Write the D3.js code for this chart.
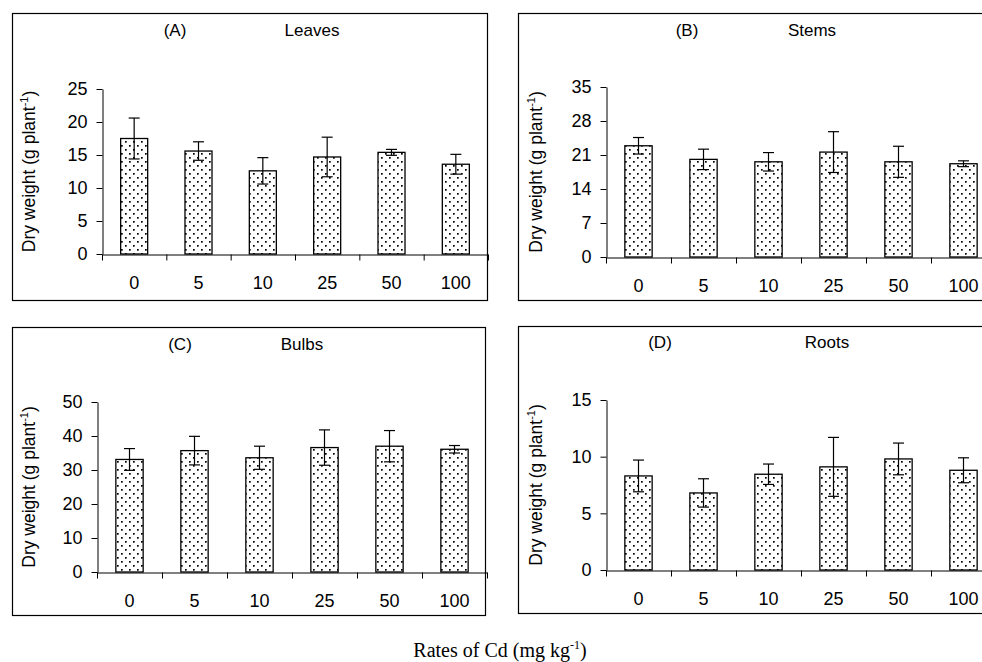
<!DOCTYPE html>
<html>
<head>
<meta charset="utf-8">
<script src="https://cdn.jsdelivr.net/npm/d3@7"></script>
<style>
  body { margin: 0; background: #fff; }
  svg { display: block; }
  text { font-family: "Liberation Sans", Arial, sans-serif; fill: #000; }
</style>
</head>
<body>
<script>
'use strict';

// data
var rates = ["0", "5", "10", "25", "50", "100"];

var leavesMean = [17.5, 15.6, 12.6, 14.7, 15.4, 13.6];
var leavesErr  = [3.1, 1.4, 2.0, 3.0, 0.45, 1.5];

var stemsMean = [22.9, 20.1, 19.6, 21.6, 19.6, 19.2];
var stemsErr  = [1.7, 2.1, 1.9, 4.2, 3.2, 0.6];

var bulbsMean = [33.1, 35.7, 33.6, 36.6, 37.0, 36.1];
var bulbsErr  = [3.2, 4.2, 3.4, 5.2, 4.6, 1.1];

var rootsMean = [8.3, 6.8, 8.45, 9.1, 9.8, 8.8];
var rootsErr  = [1.4, 1.25, 0.9, 2.6, 1.4, 1.1];

var leavesTicks = [0, 5, 10, 15, 20, 25];
var stemsTicks  = [0, 7, 14, 21, 28, 35];
var bulbsTicks  = [0, 10, 20, 30, 40, 50];
var rootsTicks  = [0, 5, 10, 15];

(function() {

    var width = 982,
        height = 662;

    var panels = [
        { tag: "(A)", name: "Leaves", mean: leavesMean, err: leavesErr, ticks: leavesTicks,
          box: [12, 13, 487, 300], x0: 102, x1: 488, y0: 254, y1: 89,
          tagX: 175, nameX: 312, titleY: 36, labX: 30 },
        { tag: "(B)", name: "Stems", mean: stemsMean, err: stemsErr, ticks: stemsTicks,
          box: [518, 13, 1000, 300], x0: 606, x1: 996, y0: 257, y1: 87,
          tagX: 687, nameX: 812, titleY: 36, labX: 537 },
        { tag: "(C)", name: "Bulbs", mean: bulbsMean, err: bulbsErr, ticks: bulbsTicks,
          box: [12, 327, 485, 615], x0: 97, x1: 487, y0: 572, y1: 402,
          tagX: 180, nameX: 302, titleY: 350, labX: 30 },
        { tag: "(D)", name: "Roots", mean: rootsMean, err: rootsErr, ticks: rootsTicks,
          box: [518, 326, 1000, 613], x0: 606, x1: 996, y0: 570, y1: 400,
          tagX: 660, nameX: 827, titleY: 348, labX: 537 }
    ];

    var svg = d3.select("body")
        .append("svg")
        .attr("width", width)
        .attr("height", height);

    // dotted fill of the bars
    var pat = svg.append("defs").append("pattern")
        .attr("id", "dots")
        .attr("patternUnits", "userSpaceOnUse")
        .attr("width", 8)
        .attr("height", 8);
    pat.append("rect").attr("width", 8).attr("height", 8).attr("fill", "#fff");
    pat.append("rect").attr("x", 1).attr("y", 1).attr("width", 1.7).attr("height", 1.7).attr("fill", "#000");
    pat.append("rect").attr("x", 5).attr("y", 5).attr("width", 1.7).attr("height", 1.7).attr("fill", "#000");

    panels.forEach(function(p) { drawPanel(p); });

    // common x label
    var xl = svg.append("text")
        .attr("x", 500)
        .attr("y", 657)
        .attr("text-anchor", "middle")
        .style("font-family", "'Liberation Serif', 'Times New Roman', serif")
        .style("font-size", "20px");
    xl.append("tspan").text("Rates of Cd (mg kg");
    xl.append("tspan").attr("dy", -8).style("font-size", "12px").text("-1");
    xl.append("tspan").attr("dy", 8).text(")");

    function drawPanel(p) {
        var g = svg.append("g");
        var b = p.box;

        g.append("rect")
            .attr("x", b[0] + 0.5)
            .attr("y", b[1] + 0.5)
            .attr("width", b[2] - b[0])
            .attr("height", b[3] - b[1])
            .attr("fill", "none")
            .attr("stroke", "#000")
            .attr("stroke-width", 1.2);

        var x = d3.scaleBand()
            .domain(rates)
            .range([p.x0, p.x1])
            .paddingInner(0.58)
            .paddingOuter(0.29);

        var xb = d3.scaleLinear().domain([0, rates.length]).range([p.x0, p.x1]);

        var y = d3.scaleLinear()
            .domain([0, d3.max(p.ticks)])
            .range([p.y0, p.y1]);

        var rows = rates.map(function(r, i) {
            return { rate: r, mean: p.mean[i], err: p.err[i] };
        });

        g.selectAll("rect.bar")
            .data(rows)
            .enter()
            .append("rect")
            .attr("class", "bar")
            .attr("x", function(d) { return x(d.rate); })
            .attr("y", function(d) { return y(d.mean); })
            .attr("width", x.bandwidth())
            .attr("height", function(d) { return y(0) - y(d.mean); })
            .attr("fill", "url(#dots)")
            .attr("stroke", "#000")
            .attr("stroke-width", 1.3);

        // error bars
        var cap = 5.5;
        var eb = g.selectAll("g.err")
            .data(rows)
            .enter()
            .append("g")
            .attr("class", "err")
            .attr("stroke", "#000")
            .attr("stroke-width", 1.2);
        eb.append("line")
            .attr("x1", function(d) { return x(d.rate) + x.bandwidth() / 2; })
            .attr("x2", function(d) { return x(d.rate) + x.bandwidth() / 2; })
            .attr("y1", function(d) { return y(d.mean + d.err); })
            .attr("y2", function(d) { return y(d.mean - d.err); });
        [1, -1].forEach(function(s) {
            eb.append("line")
                .attr("x1", function(d) { return x(d.rate) + x.bandwidth() / 2 - cap; })
                .attr("x2", function(d) { return x(d.rate) + x.bandwidth() / 2 + cap; })
                .attr("y1", function(d) { return y(d.mean + s * d.err); })
                .attr("y2", function(d) { return y(d.mean + s * d.err); });
        });

        // y axis
        var ya = g.append("g")
            .attr("transform", "translate(" + (p.x0 + 0.5) + ",0)")
            .call(d3.axisLeft(y).tickValues(p.ticks).tickSize(6).tickSizeOuter(0).tickPadding(9));
        ya.selectAll("text").style("font-size", "18px");

        // x axis: ticks at category boundaries, labels at centres
        g.append("g")
            .attr("transform", "translate(0," + (p.y0 + 0.5) + ")")
            .call(d3.axisBottom(xb).tickValues(d3.range(rates.length + 1)).tickFormat("").tickSize(6).tickSizeOuter(0));
        var xlab = g.append("g")
            .attr("transform", "translate(0," + (p.y0 + 0.5) + ")")
            .call(d3.axisBottom(x).tickSize(0).tickPadding(22));
        xlab.select(".domain").remove();
        xlab.selectAll("text").style("font-size", "18px");

        g.selectAll(".domain, .tick line").attr("stroke", "#000");

        // titles
        g.append("text")
            .attr("x", p.tagX).attr("y", p.titleY)
            .attr("text-anchor", "middle")
            .style("font-size", "17px")
            .text(p.tag);
        g.append("text")
            .attr("x", p.nameX).attr("y", p.titleY)
            .attr("text-anchor", "middle")
            .style("font-size", "17px")
            .text(p.name);

        // y label
        var yl = g.append("text")
            .attr("transform", "translate(" + (p.labX + 5) + "," + ((p.y0 + p.y1) / 2) + ") rotate(-90)")
            .attr("text-anchor", "middle")
            .style("font-size", "17.5px");
        yl.append("tspan").text("Dry weight (g plant");
        yl.append("tspan").attr("dy", -7).style("font-size", "11px").text("-1");
        yl.append("tspan").attr("dy", 7).text(")");
    }
})();
</script>
</body>
</html>
